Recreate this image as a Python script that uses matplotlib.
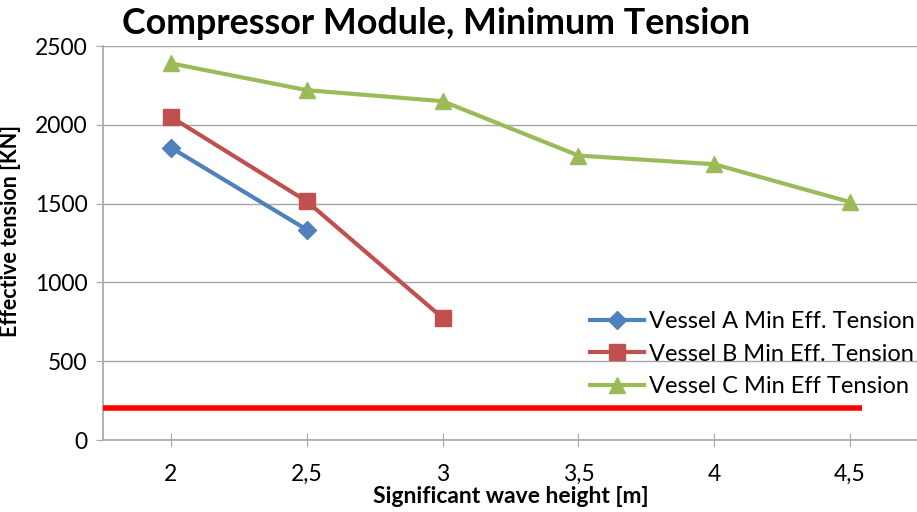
import numpy as np
import matplotlib
matplotlib.use("Agg")
import matplotlib.pyplot as plt

plt.rcParams['font.family'] = ['Lato', 'DejaVu Sans']

# Data
wave_labels = ['2', '2,5', '3', '3,5', '4', '4,5']
vessel_a = [1855, 1335]
vessel_b = [2050, 1515, 775]
vessel_c = [2390, 2220, 2150, 1805, 1750, 1510]
limit_value = 200
limit_span = [-0.5, 5.09]

blue = '#4F81BD'
red = '#C0504D'
green = '#9BBB59'
grid_col = '#A6A6A6'

fig = plt.figure(figsize=(9.17, 5.12), dpi=100)
ax = fig.add_axes([0.1123, 0.1406, 0.8888, 0.7695])

x = np.arange(len(wave_labels))

ax.plot(x[:len(vessel_a)], vessel_a, color=blue, lw=3, marker='D', ms=9,
        label='Vessel A Min Eff. Tension', zorder=4)
ax.plot(x[:len(vessel_b)], vessel_b, color=red, lw=3, marker='s', ms=11,
        label='Vessel B Min Eff. Tension', zorder=4)
ax.plot(x, vessel_c, color=green, lw=3, marker='^', ms=12,
        label='Vessel C Min Eff Tension', zorder=4)

# Limit line
ax.hlines(limit_value, limit_span[0], limit_span[1], color='#FF0000', lw=4, zorder=3)

ax.set_xlim(-0.5, 5.5)
ax.set_ylim(0, 2500)
ax.set_yticks(np.arange(0, 2501, 500))
ax.set_xticks(x)
ax.set_xticklabels(wave_labels)

ax.grid(axis='y', color=grid_col, lw=1)
ax.set_axisbelow(True)
for s in ['top', 'right']:
    ax.spines[s].set_visible(False)
for s in ['left', 'bottom']:
    ax.spines[s].set_color(grid_col)
    ax.spines[s].set_linewidth(1.2)

ax.tick_params(axis='x', direction='inout', length=10, color=grid_col,
               labelsize=16.5, pad=12)
ax.tick_params(axis='y', direction='out', length=5, color=grid_col,
               labelsize=16.5, pad=6)

ax.set_title('Compressor Module, Minimum Tension', fontsize=25.8,
             fontweight='bold', x=0.409, pad=9)
ax.set_xlabel('Significant wave height [m]', fontsize=16.5, fontweight='bold',
              labelpad=1)
ax.set_ylabel('Effective tension [KN]', fontsize=15.5, fontweight='bold')
ax.yaxis.set_label_coords(-0.100, 0.53)

ax.legend(loc='upper left', bbox_to_anchor=(0.643, 0.393),
          bbox_transform=fig.transFigure, frameon=False, fontsize=17,
          handlelength=2.3, handletextpad=0.2, labelspacing=0.5,
          borderaxespad=0, borderpad=0)

fig.savefig('out.png', dpi=100)
